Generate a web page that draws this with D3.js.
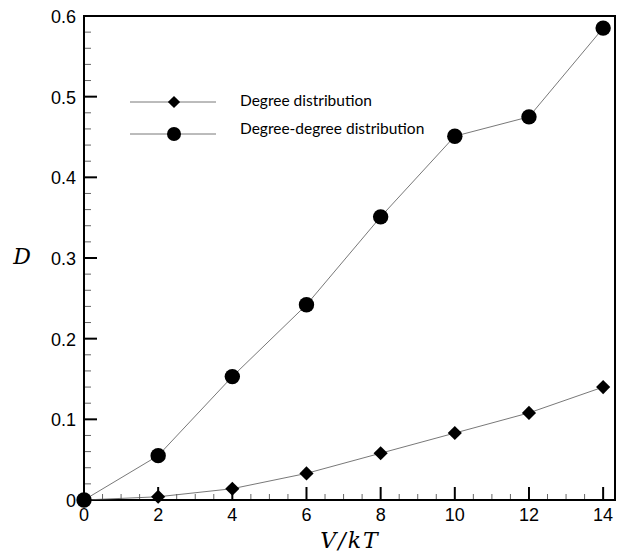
<!DOCTYPE html>
<html><head><meta charset="utf-8">
<script src="https://cdn.jsdelivr.net/npm/d3@7"></script>
<style>body{margin:0;background:#fff}svg{display:block}</style>
</head><body>
<svg id="c" width="627" height="554"></svg>
<script>
const xValues = [0, 2, 4, 6, 8, 10, 12, 14];
const degree = [0, 0.004, 0.014, 0.033, 0.058, 0.083, 0.108, 0.140];
const degreeDegree = [0, 0.055, 0.153, 0.242, 0.351, 0.451, 0.475, 0.585];
const xTicks = [0, 2, 4, 6, 8, 10, 12, 14];
const yTicks = [0, 0.1, 0.2, 0.3, 0.4, 0.5, 0.6];
const seriesNames = ["Degree distribution", "Degree-degree distribution"];

const svg = d3.select("#c");
const L = 84, R = 615, T = 16, B = 500;
const x = d3.scaleLinear().domain([0, 14.32]).range([L, R]);
const y = d3.scaleLinear().domain([0, 0.6]).range([B, T]);

const g = svg.append("g");
const xMinor = d3.range(0, 14.01, 0.5).filter(v => !xTicks.includes(v));
const yMinor = d3.range(0, 0.601, 0.02).map(v => +v.toFixed(2)).filter(v => !yTicks.some(t => Math.abs(t - v) < 1e-6));
g.selectAll(".xm").data(xMinor).join("line")
  .attr("x1", d => x(d)).attr("x2", d => x(d)).attr("y1", B).attr("y2", B - 6)
  .attr("stroke", "#666").attr("stroke-width", 1);
g.selectAll(".ym").data(yMinor).join("line")
  .attr("y1", d => y(d)).attr("y2", d => y(d)).attr("x1", L).attr("x2", L + 7)
  .attr("stroke", "#666").attr("stroke-width", 1);
g.selectAll(".xM").data(xTicks).join("line")
  .attr("x1", d => x(d)).attr("x2", d => x(d)).attr("y1", B).attr("y2", B - 13)
  .attr("stroke", "#000").attr("stroke-width", 2);
g.selectAll(".yM").data(yTicks).join("line")
  .attr("y1", d => y(d)).attr("y2", d => y(d)).attr("x1", L).attr("x2", L + 13)
  .attr("stroke", "#000").attr("stroke-width", 2);

g.selectAll(".xl").data(xTicks).join("text")
  .attr("x", d => x(d)).attr("y", B + 21).attr("text-anchor", "middle")
  .attr("font-family", "Liberation Sans, Arial, sans-serif").attr("font-size", 18)
  .text(d => d);
g.selectAll(".yl").data(yTicks).join("text")
  .attr("x", L - 8).attr("y", d => y(d) + 7).attr("text-anchor", "end")
  .attr("font-family", "Liberation Sans, Arial, sans-serif").attr("font-size", 18)
  .text(d => d === 0 ? "0" : d.toFixed(1));

svg.append("rect").attr("x", L).attr("y", T).attr("width", R - L).attr("height", B - T)
  .attr("fill", "none").attr("stroke", "#000").attr("stroke-width", 2);

const line = d3.line().x((d, i) => x(xValues[i])).y(d => y(d));
[degree, degreeDegree].forEach(s => {
  svg.append("path").attr("d", line(s)).attr("fill", "none")
    .attr("stroke", "#555").attr("stroke-width", 0.8);
});

const diamond = d3.symbol().type(d3.symbolSquare).size(100);
const legDiamond = d3.symbol().type(d3.symbolSquare).size(75);
svg.selectAll(".dm").data(degree).join("path")
  .attr("d", diamond())
  .attr("transform", (d, i) => `translate(${x(xValues[i])},${y(d)}) rotate(45)`)
  .attr("fill", "#000");
svg.selectAll(".cm").data(degreeDegree).join("circle")
  .attr("cx", (d, i) => x(xValues[i])).attr("cy", d => y(d)).attr("r", 7.7)
  .attr("fill", "#000");

const leg = svg.append("g");
const legY = [102, 134];
const textY = [106, 134];
legY.forEach((ly, i) => {
  leg.append("line").attr("x1", 130).attr("x2", 216).attr("y1", ly).attr("y2", ly)
    .attr("stroke", "#555").attr("stroke-width", 0.8);
  if (i === 0) {
    leg.append("path").attr("d", legDiamond()).attr("transform", `translate(174,${ly}) rotate(45)`).attr("fill", "#000");
  } else {
    leg.append("circle").attr("cx", 174).attr("cy", ly).attr("r", 7).attr("fill", "#000");
  }
  leg.append("text").attr("x", 240).attr("y", textY[i])
    .attr("font-family", "Lato, 'Open Sans', sans-serif").attr("font-size", 15.5)
    .text(seriesNames[i]);
});

svg.append("text").attr("x", 350).attr("y", 548).attr("text-anchor", "middle")
  .attr("font-family", "DejaVu Serif, Liberation Serif, serif").attr("font-style", "italic").attr("font-size", 22)
  .attr("letter-spacing", 2)
  .text("V/kT");
svg.append("text").attr("x", 22).attr("y", 264).attr("text-anchor", "middle")
  .attr("font-family", "DejaVu Serif, Liberation Serif, serif").attr("font-style", "italic").attr("font-size", 22)
  .text("D");
</script>
</body></html>
